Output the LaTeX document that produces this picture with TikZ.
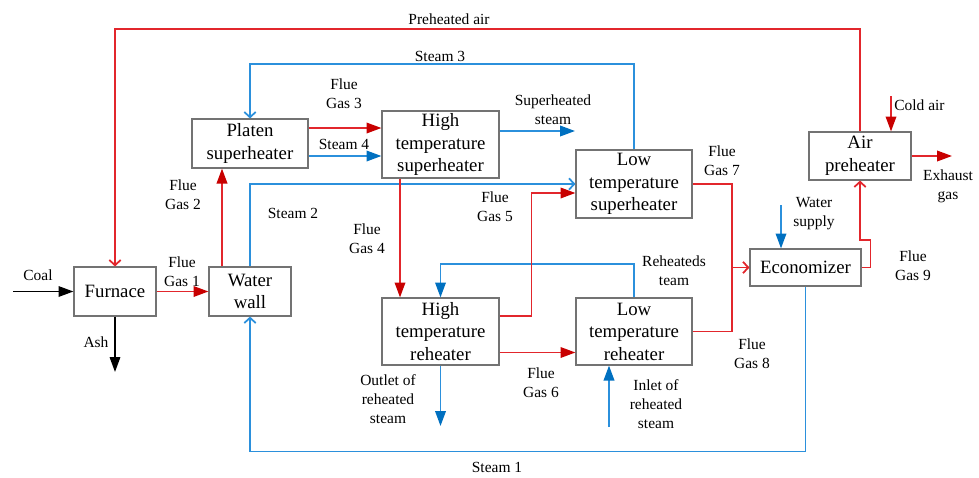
\documentclass[tikz,border=0pt]{standalone}
\usepackage{fontspec}
\setmainfont{Liberation Serif}
\usepackage{tikz}
\usepackage{xcolor}
\usetikzlibrary{arrows.meta,calc}
\definecolor{flue}{HTML}{E2262C}
\definecolor{fluetip}{HTML}{C80000}
\definecolor{steam}{HTML}{2B90DC}
\definecolor{steamtip}{HTML}{0070C0}
\newcommand*{\BoxFont}{\fontsize{10.7}{12.8}\selectfont}
\newcommand*{\TagFont}{\fontsize{8.8}{10.8}\selectfont}
\tikzset{
    unit/.style={draw=black!55, line width=0.65pt, align=center, inner sep=1pt, font=\BoxFont},
    tag/.style={align=center, inner sep=0pt, font=\TagFont},
    gasfill/.style={draw=flue, line width=1pt, -{Triangle[length=8.5pt,width=6pt,color=fluetip]}},
    gasopen/.style={draw=flue, line width=1pt, -{Straight Barb[length=3pt,width=6.5pt]}},
    gasline/.style={draw=flue, line width=1pt},
    steamfill/.style={draw=steam, line width=1pt, -{Triangle[length=8.5pt,width=6pt,color=steamtip]}},
    steamopen/.style={draw=steam, line width=1pt, -{Straight Barb[length=3pt,width=6.5pt]}},
    solidarrow/.style={draw=black, line width=0.9pt, -{Triangle[length=8.5pt,width=6pt]}}
}

\begin{document}
\begin{tikzpicture}[x=0.02cm, y=-0.02cm]
    \useasboundingbox (0,0) rectangle (979,477);

    \node[unit, minimum width=1.64cm, minimum height=0.98cm] (furnace) at (115,291.5) {Furnace};
    \node[unit, minimum width=1.64cm, minimum height=0.98cm] (wall) at (250,291.5) {Water\\wall};
    \node[unit, minimum width=2.32cm, minimum height=0.98cm] (platen) at (250,143.5) {Platen\\superheater};
    \node[unit, minimum width=2.34cm, minimum height=1.34cm] (hts) at (440.5,144.5) {High\\temperature\\superheater};
    \node[unit, minimum width=2.32cm, minimum height=1.36cm] (lts) at (634,184) {Low\\temperature\\superheater};
    \node[unit, minimum width=2.04cm, minimum height=0.96cm] (air) at (860,156) {Air\\preheater};
    \node[unit, minimum width=2.34cm, minimum height=1.34cm] (htr) at (440.5,331.5) {High\\temperature\\reheater};
    \node[unit, minimum width=2.32cm, minimum height=1.34cm] (ltr) at (634,331.5) {Low\\temperature\\reheater};
    \node[unit, minimum width=2.22cm, minimum height=0.74cm] (eco) at (805.5,267.5) {Economizer};

    \coordinate (coal) at (13,291.5);
    \coordinate (ash) at (115,372);
    \coordinate (airtop) at (115,29);
    \coordinate (steamtop) at (250,64);
    \coordinate (shout) at (575,131);
    \coordinate (rhtop) at (440.5,264);
    \coordinate (junc) at (732,267.5);
    \coordinate (cold) at (891,96);
    \coordinate (exhaust) at (952,156);
    \coordinate (water) at (781,205);
    \coordinate (rhout) at (440.5,426);
    \coordinate (rhin) at (609,427);

    \draw[solidarrow] (coal) -- (furnace.west);
    \draw[solidarrow] (furnace.south) -- (ash);
    \draw[gasfill] (furnace) -- (wall);
    \draw[gasfill] ([xshift=-0.56cm]wall.north) -- ([xshift=-0.56cm]wall.north |- platen.south);
    \draw[steamopen] (wall.north) |- (lts.west);
    \draw[steamopen] (lts.north) |- (steamtop) -- (platen.north);
    \draw[gasopen] (air.north) |- (airtop) -- (furnace.north);
    \draw[gasfill] ([yshift=0.31cm]platen.east) -- ([yshift=0.31cm]platen.east -| hts.west);
    \draw[steamfill] ([yshift=-0.25cm]platen.east) -- ([yshift=-0.25cm]platen.east -| hts.west);
    \draw[steamfill] (hts.east |- shout) -- (shout);
    \draw[gasfill] ([xshift=-0.81cm]hts.south) -- ([xshift=-0.81cm]htr.north);
    \draw[steamfill] (ltr.north) |- (rhtop) -- (htr.north);
    \draw[gasfill] ([yshift=0.31cm]htr.east) -- ++(32,0) |- ([yshift=-0.18cm]lts.west);
    \draw[gasfill] ([yshift=-0.42cm]htr.east) -- ([yshift=-0.42cm]htr.east -| ltr.west);
    \draw[gasopen] (lts.east) -| (junc) -- (eco.west);
    \draw[gasline] (ltr.east) -| (junc);
    \draw[gasopen] (eco.east) -- ++(9,0) -- ++(0,-27.5) -| (air.south);
    \draw[gasfill] (cold) -- (cold |- air.north);
    \draw[gasfill] (air.east) -- (exhaust);
    \draw[steamfill] (water) -- (water |- eco.north);
    \draw[steamopen] (eco.south) -- ++(0,165) -| (wall.south);
    \draw[steamfill] (htr.south) -- (rhout);
    \draw[steamfill] (rhin) -- (rhin |- ltr.south);

    \node[tag] (tpreair) at (449,19) {Preheated air};
    \node[tag] (tsteam3) at (440,56) {Steam 3};
    \node[tag] (tgas3) at (344,94) {Flue\\Gas 3};
    \node[tag] (tsteam4) at (344,144) {Steam 4};
    \node[tag] (tsuper) at (553,110) {Superheated\\steam};
    \node[tag] (tgas2) at (183,195) {Flue\\Gas 2};
    \node[tag] (tsteam2) at (293,213) {Steam 2};
    \node[tag] (tgas4) at (367,239) {Flue\\Gas 4};
    \node[tag] (tgas5) at (495,207) {Flue\\Gas 5};
    \node[tag] (tgas7) at (722,161) {Flue\\Gas 7};
    \node[tag, anchor=west] (tcold) at (894,105) {Cold air};
    \node[tag] (texhaust) at (948,186) {Exhaust\\gas};
    \node[tag] (twater) at (814,214) {Water\\supply};
    \node[tag] (tcoal) at (38,275) {Coal};
    \node[tag] (tgas1) at (182,272) {Flue\\Gas 1};
    \node[tag] (tash) at (96,342) {Ash};
    \node[tag] (treheat) at (674,271) {Reheateds\\team};
    \node[tag] (tgas9) at (913,266) {Flue\\Gas 9};
    \node[tag] (tgas6) at (541,383) {Flue\\Gas 6};
    \node[tag] (tgas8) at (752,354) {Flue\\Gas 8};
    \node[tag] (toutlet) at (388,399) {Outlet of\\reheated\\steam};
    \node[tag] (tinlet) at (656,404) {Inlet of\\reheated\\steam};
    \node[tag] (tsteam1) at (497,467) {Steam 1};
\end{tikzpicture}
\end{document}
